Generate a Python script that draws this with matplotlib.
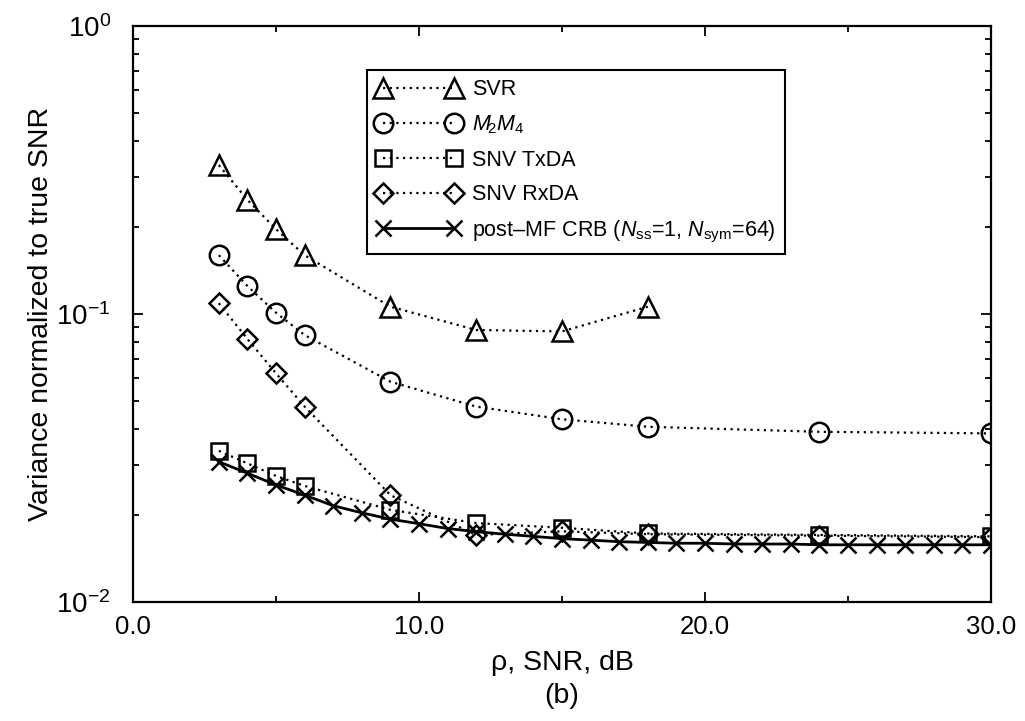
import numpy as np
import matplotlib
matplotlib.use("Agg")
import matplotlib.pyplot as plt

plt.rcParams["font.family"] = ["Liberation Sans", "DejaVu Sans"]
plt.rcParams["mathtext.fontset"] = "custom"
plt.rcParams["mathtext.rm"] = "Liberation Sans"
plt.rcParams["mathtext.it"] = "Liberation Sans:italic"
plt.rcParams["mathtext.bf"] = "Liberation Sans:bold"

# SNR points (dB) and normalized variances
snr_svr = [3, 4, 5, 6, 9, 12, 15, 18]
var_svr = [0.329, 0.249, 0.197, 0.160, 0.106, 0.088, 0.087, 0.106]

snr_est = [3, 4, 5, 6, 9, 12, 15, 18, 24, 30]
var_m2m4 = [0.160, 0.125, 0.101, 0.0845, 0.0582, 0.0477, 0.0431, 0.0406, 0.0390, 0.0385]
var_txda = [0.0335, 0.0303, 0.0274, 0.0253, 0.0209, 0.0188, 0.0181, 0.0173, 0.0171, 0.0169]
var_rxda = [0.109, 0.0819, 0.0622, 0.0477, 0.0235, 0.0171, 0.0176, 0.0172, 0.0170, 0.0168]

snr_crb = [3, 4, 5, 6, 7, 8, 9, 10, 11, 12, 13, 14, 15, 16,
           17, 18, 19, 20, 21, 22, 23, 24, 25, 26, 27, 28, 29, 30]
var_crb = [0.0307, 0.0280, 0.0255, 0.0235, 0.0216, 0.0204, 0.0194, 0.0187,
           0.0180, 0.01755, 0.0172, 0.0169, 0.0166, 0.0164, 0.0162, 0.0161,
           0.0160, 0.0160, 0.0159, 0.0159, 0.0159, 0.0158, 0.0158, 0.0158,
           0.0158, 0.0158, 0.0158, 0.0158]

labels = [
    "SVR",
    r"$M_{\!2}M_{4}$",
    "SNV TxDA",
    "SNV RxDA",
    r"post–MF CRB ($N_{\rm ss}$=1, $N_{\rm sym}$=64)",
]


def main():
    fig = plt.figure(figsize=(10.25, 7.21), dpi=100)
    ax = fig.add_axes([0.1298, 0.165, 0.837, 0.799])

    dotted = (0, (1, 2))
    common = dict(color="black", markerfacecolor="none", markeredgecolor="black",
                  markeredgewidth=1.8)

    ax.plot(snr_svr, var_svr, linestyle=dotted, linewidth=1.6, marker="^",
            markersize=15, label=labels[0], **common)
    ax.plot(snr_est, var_m2m4, linestyle=dotted, linewidth=1.6, marker="o",
            markersize=14, label=labels[1], **common)
    ax.plot(snr_est, var_txda, linestyle=dotted, linewidth=1.6, marker="s",
            markersize=11, label=labels[2], **common)
    ax.plot(snr_est, var_rxda, linestyle=dotted, linewidth=1.6, marker="D",
            markersize=10, label=labels[3], **common)
    ax.plot(snr_crb, var_crb, linestyle="-", linewidth=2.0, marker="x",
            markersize=11, label=labels[4], **common)

    ax.set_yscale("log")
    ax.set_xlim(0, 30)
    ax.set_ylim(1e-2, 1e0)
    ax.set_xticks([0, 10, 20, 30])
    ax.set_xticklabels(["0.0", "10.0", "20.0", "30.0"])
    ax.set_xticks([5, 15, 25], minor=True)

    ax.tick_params(which="both", direction="in", top=True, right=True, width=1.3)
    ax.tick_params(which="major", length=7)
    ax.tick_params(which="minor", length=4)
    ax.tick_params(axis="x", which="major", labelsize=18.5, pad=9)
    ax.tick_params(axis="y", which="major", labelsize=20, pad=16)
    for spine in ax.spines.values():
        spine.set_linewidth(1.6)

    ax.set_ylabel("Variance normalized to true SNR", fontsize=20.5, labelpad=2)
    ax.set_xlabel("ρ, SNR, dB\n(b)", fontsize=20.5, labelpad=8, linespacing=1.35)

    leg = ax.legend(loc="upper left", bbox_to_anchor=(0.273, 0.924),
                    borderaxespad=0, fontsize=15.5, numpoints=2, handlelength=3.9,
                    handletextpad=0.5, labelspacing=0.62, borderpad=0.45,
                    fancybox=False, framealpha=1, edgecolor="black")
    leg.get_frame().set_linewidth(1.5)

    fig.savefig("out.png", dpi=100)


if __name__ == "__main__":
    main()
